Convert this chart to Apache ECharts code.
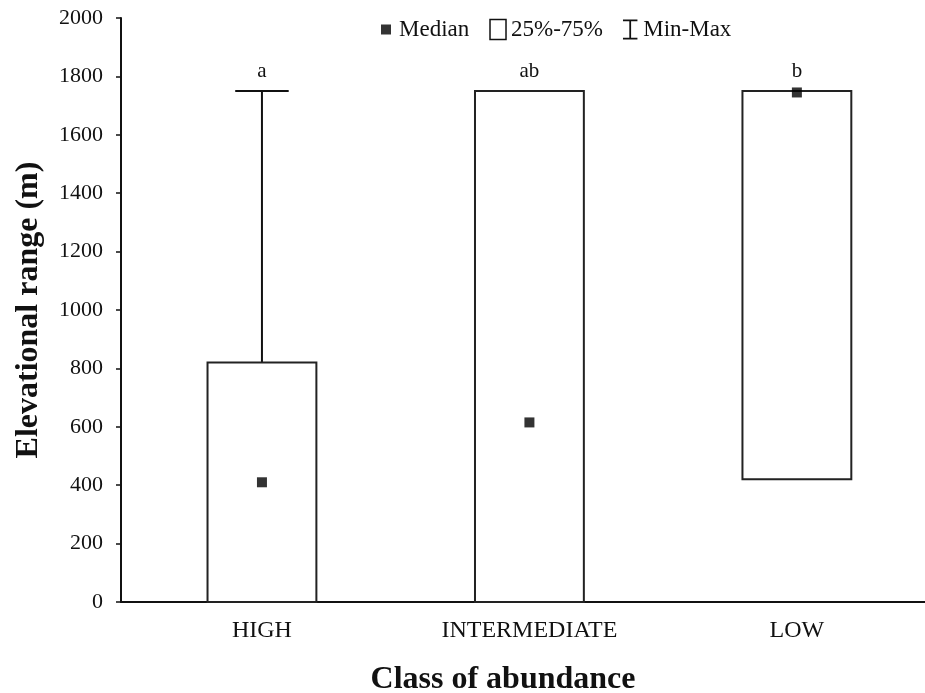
<!DOCTYPE html>
<html>
<head>
<meta charset="utf-8">
<script src="https://cdn.jsdelivr.net/npm/echarts@6/dist/echarts.min.js"></script>
<style>
    html, body { margin: 0; padding: 0; background: #fff; }
    #main { width: 925px; height: 693px; }
</style>
</head>
<body>
<div id="main"></div>
<script>
// 数据
var categories = ['HIGH', 'INTERMEDIATE', 'LOW'];
var boxLow = [0, 0, 420];        // 25%
var boxHigh = [820, 1750, 1750]; // 75%
var maxVals = [1750, 1750, 1750];
var medians = [410, 615, 1745];
var letters = ['a', 'ab', 'b'];

(function () {
    var font = 'Liberation Serif';
    var myChart = echarts.init(document.getElementById('main'));

    var boxData = categories.map(function (c, i) {
        return [i, boxLow[i], boxHigh[i]];
    });
    var whiskerData = categories.map(function (c, i) {
        return [i, boxHigh[i], maxVals[i], letters[i]];
    });
    var medianData = categories.map(function (c, i) {
        return [i, medians[i]];
    });

    var option = {
        animation: false,
        textStyle: { fontFamily: font },
        grid: { left: 121, right: 0, top: 18, bottom: 91, outerBoundsMode: 'none' },
        legend: {
            left: 373,
            top: 13,
            itemWidth: 16,
            itemHeight: 20,
            itemGap: 20,
            textStyle: { fontFamily: font, fontSize: 23, color: '#111' },
            data: [
                { name: 'Median', icon: 'path://M0,0L0,0M16,20L16,20M3,5h10v10h-10z' },
                { name: '25%-75%', icon: 'rect', itemStyle: { color: '#fff', borderColor: '#111', borderWidth: 1.5 } },
                { name: 'Min-Max', icon: 'path://M0,0H13V1.6H7.3V16.4H13V18H0V16.4H5.7V1.6H0Z' }
            ]
        },
        xAxis: {
            type: 'value',
            min: -0.527,
            max: 2.479,
            name: 'Class of abundance',
            nameLocation: 'middle',
            nameGap: 62,
            nameTextStyle: {
                fontFamily: font, fontSize: 32, fontWeight: 'bold', color: '#111',
                padding: [0, 40, 0, 0]
            },
            axisLine: { onZero: false, lineStyle: { color: '#111', width: 2 } },
            axisTick: { show: false },
            splitLine: { show: false },
            axisLabel: {
                customValues: [0, 1, 2],
                formatter: function (v) { return categories[Math.round(v)]; },
                fontFamily: font,
                fontSize: 24,
                color: '#111',
                margin: 17
            }
        },
        yAxis: {
            type: 'value',
            min: 0,
            max: 2000,
            interval: 200,
            name: 'Elevational range (m)',
            nameLocation: 'middle',
            nameGap: 76,
            nameTextStyle: { fontFamily: font, fontSize: 32, fontWeight: 'bold', color: '#111' },
            axisLine: { show: true, onZero: false, lineStyle: { color: '#111', width: 2 } },
            axisTick: { show: true, length: 5, lineStyle: { color: '#111', width: 1.5 } },
            splitLine: { show: false },
            axisLabel: {
                fontFamily: font, fontSize: 22, color: '#111', margin: 18,
                formatter: function (v) { return String(v); }
            }
        },
        series: [
            {
                name: 'Min-Max',
                type: 'custom',
                itemStyle: { color: '#111' },
                z: 1,
                renderItem: function (params, api) {
                    var x = api.value(0);
                    var lo = api.coord([x, api.value(1)]);
                    var hi = api.coord([x, api.value(2)]);
                    var capW = api.size([0.2, 0])[0];
                    var st = { stroke: '#111', lineWidth: 2 };
                    return {
                        type: 'group',
                        children: [
                            { type: 'line', shape: { x1: lo[0], y1: lo[1], x2: hi[0], y2: hi[1] }, style: st },
                            { type: 'line', shape: { x1: hi[0] - capW / 2, y1: hi[1], x2: hi[0] + capW / 2, y2: hi[1] }, style: st },
                            {
                                type: 'text',
                                style: {
                                    text: api.value(3),
                                    x: hi[0], y: hi[1] - 9,
                                    align: 'center', verticalAlign: 'bottom',
                                    font: '21px "' + font + '"', fill: '#111'
                                }
                            }
                        ]
                    };
                },
                encode: { x: 0, y: [1, 2] },
                data: whiskerData
            },
            {
                name: '25%-75%',
                type: 'custom',
                itemStyle: { color: '#fff' },
                z: 2,
                renderItem: function (params, api) {
                    var x = api.value(0);
                    var lo = api.coord([x, api.value(1)]);
                    var hi = api.coord([x, api.value(2)]);
                    var w = api.size([0.407, 0])[0];
                    return {
                        type: 'rect',
                        shape: { x: lo[0] - w / 2, y: hi[1], width: w, height: lo[1] - hi[1] },
                        style: { fill: '#fff', stroke: '#222', lineWidth: 2 }
                    };
                },
                encode: { x: 0, y: [1, 2] },
                data: boxData
            },
            {
                name: 'Median',
                type: 'scatter',
                symbol: 'rect',
                symbolSize: 10,
                itemStyle: { color: '#000' },
                z: 3,
                data: medianData
            }
        ]
    };
    myChart.setOption(option);
})();
</script>
</body>
</html>
